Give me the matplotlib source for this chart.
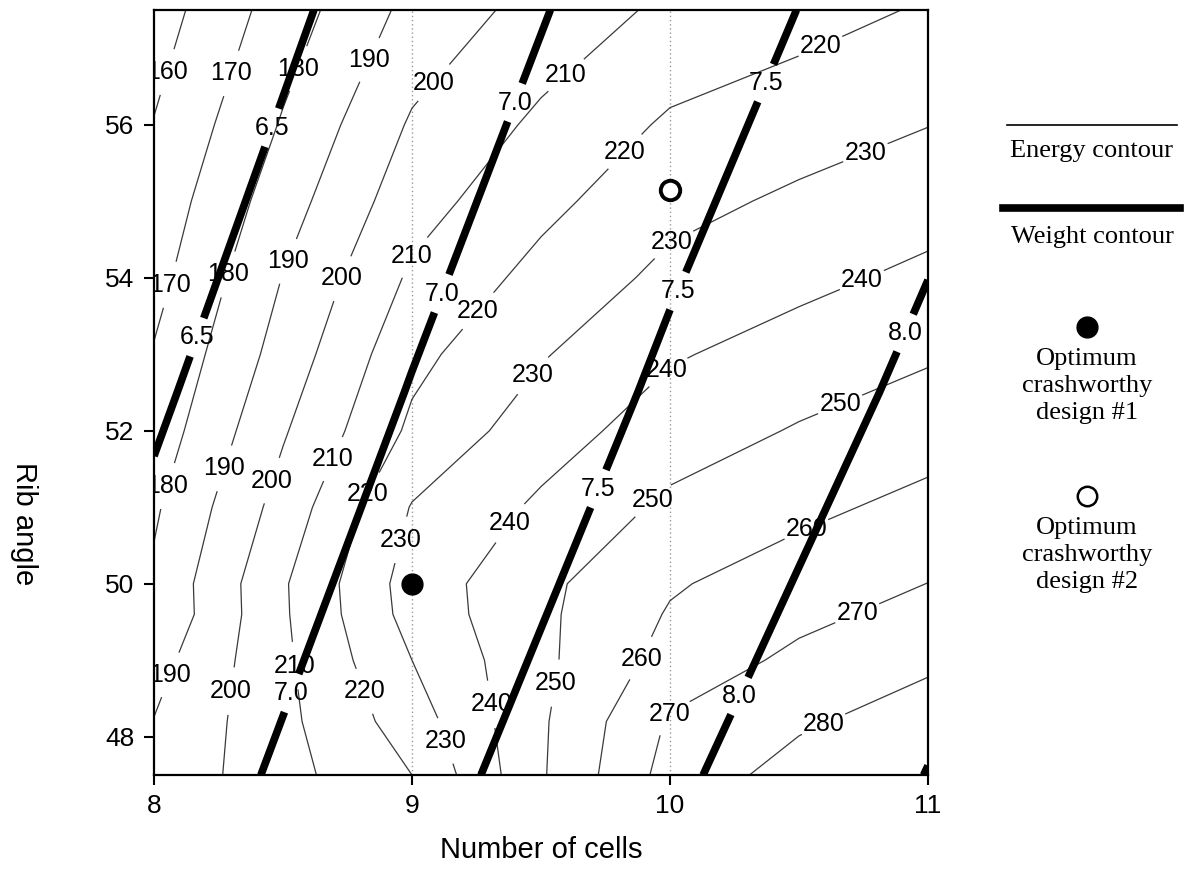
import numpy as np
import matplotlib
matplotlib.use("Agg")
import matplotlib.pyplot as plt
from matplotlib.lines import Line2D

plt.rcParams['font.family'] = ['Liberation Sans', 'DejaVu Sans']

# Energy absorbed on the design grid (rows: rib angle, columns: number of cells)
cells = [8.0, 8.5, 9.0, 9.5, 10.0, 10.5, 11.0]
rib_angle = [47.5, 48.2, 49.0, 49.6, 50.0, 51.0, 52.0, 53.0, 54.0, 55.0, 56.0, 57.5]
energy = [
    [192.6, 206.5, 220.0, 248.9, 273.9, 283.8, 290.2],
    [190.3, 207.4, 225.0, 248.6, 271.1, 278.6, 284.7],
    [186.3, 208.1, 230.0, 247.8, 263.6, 272.3, 278.2],
    [181.5, 208.7, 233.7, 248.0, 260.8, 267.5, 273.3],
    [181.7, 208.9, 234.4, 247.7, 259.0, 264.8, 270.1],
    [178.6, 203.9, 230.6, 241.7, 252.0, 257.7, 262.8],
    [174.2, 199.0, 221.9, 235.4, 245.0, 250.8, 255.7],
    [170.7, 194.1, 217.3, 229.2, 239.0, 244.1, 248.8],
    [166.7, 190.3, 211.6, 223.1, 232.5, 237.5, 242.2],
    [163.7, 185.5, 206.0, 217.3, 227.0, 231.7, 235.9],
    [160.4, 180.9, 201.2, 211.9, 221.4, 225.7, 229.8],
    [155.2, 174.7, 192.9, 203.8, 212.0, 216.2, 221.0],
]
energy_levels = [160, 170, 180, 190, 200, 210, 220, 230, 240, 250, 260, 270, 280]

# Structural weight on a coarser grid
weight_cells = [8.0, 9.0, 10.0, 11.0]
weight_angle = [47.5, 52.5, 57.5]
weight = [
    [6.756, 7.345, 7.925, 8.51],
    [6.449, 7.017, 7.569, 8.10],
    [6.156, 6.711, 7.250, 7.76],
]
weight_levels = [6.5, 7.0, 7.5, 8.0, 8.5]

# Optimum designs
opt1 = (9.0, 50.0)
opt2 = (10.0, 55.15)

# Label anchor points
energy_label_pos = [
    (8.04, 56.7), (8.30, 56.67), (8.07, 53.9),
    (8.57, 56.72), (8.29, 54.04), (8.06, 51.27),
    (8.80, 56.9), (8.53, 54.2), (8.28, 51.5), (8.07, 48.8),
    (9.05, 56.65), (8.72, 54.0), (8.41, 51.4), (8.29, 48.6),
    (9.61, 56.6), (8.97, 54.34), (8.68, 51.65), (8.57, 48.94),
    (10.58, 57.05), (9.81, 55.7), (9.22, 53.67), (8.80, 51.23), (8.82, 48.6),
    (10.74, 55.78), (9.98, 54.65), (9.48, 52.69), (8.95, 50.58), (9.17, 47.99),
    (10.74, 54.0), (9.98, 52.82), (9.36, 50.84), (9.30, 48.42),
    (10.66, 52.34), (9.92, 51.14), (9.52, 48.72),
    (10.53, 50.7), (9.84, 49.1),
    (10.72, 49.66), (9.96, 48.39),
    (10.59, 48.2),
]
weight_label_pos = [
    (8.45, 55.97), (8.16, 53.23),
    (9.43, 56.25), (9.11, 53.8), (8.55, 48.55),
    (10.43, 56.46), (10.05, 53.8), (9.76, 51.19),
    (10.91, 53.28), (10.13, 48.75),
]

W, H = 1188, 888
fig = plt.figure(figsize=(W / 100, H / 100), dpi=100)
ax = fig.add_axes([154 / W, 1 - 775 / H, (928 - 154) / W, (775 - 10) / H])

ax.axvline(9, color='#9a9a9a', lw=1.0, ls=(0, (1, 2)), zorder=1)
ax.axvline(10, color='#9a9a9a', lw=1.0, ls=(0, (1, 2)), zorder=1)

cs_e = ax.contour(cells, rib_angle, energy, levels=energy_levels,
                  colors='#3a3a3a', linewidths=0.9, zorder=2)
e_labels = ax.clabel(cs_e, inline=True, fmt='%d', fontsize=18, colors='black',
                     inline_spacing=3, manual=energy_label_pos)

cs_w = ax.contour(weight_cells, weight_angle, weight, levels=weight_levels,
                  colors='black', linewidths=5.5, zorder=3)
w_labels = ax.clabel(cs_w, levels=[6.5, 7.0, 7.5, 8.0], inline=True, fmt='%.1f',
                     fontsize=18, colors='black', inline_spacing=3,
                     manual=weight_label_pos)

# contour values are printed upright
for t in list(e_labels) + list(w_labels):
    t.set_rotation(0)
    t.set_zorder(6)

ax.plot(*opt1, 'o', ms=15, color='black', zorder=5, clip_on=False)
ax.plot(*opt2, 'o', ms=14, mfc='white', mec='black', mew=2.8, zorder=5)

ax.set_xlim(8, 11)
ax.set_ylim(47.5, 57.5)
ax.set_xticks([8, 9, 10, 11])
ax.set_yticks([48, 50, 52, 54, 56])
ax.tick_params(direction='out', length=7, width=1.5, labelsize=19, pad=7)
for s in ax.spines.values():
    s.set_linewidth(1.6)

fig.text(541 / W, 1 - 850 / H, 'Number of cells', ha='center', va='center',
         fontsize=21)
fig.text(24 / W, 1 - 524 / H, 'Rib angle', ha='center', va='center',
         fontsize=21, rotation=270)

# Key on the right
serif = ['Liberation Serif', 'DejaVu Serif']
fig.add_artist(Line2D([1007 / W, 1177 / W], [1 - 125 / H] * 2, color='black', lw=1.2))
fig.text(1092 / W, 1 - 151 / H, 'Energy contour', ha='center', va='center',
         fontsize=19, family=serif)
fig.add_artist(Line2D([1003 / W, 1180 / W], [1 - 208 / H] * 2, color='black', lw=5.5))
fig.text(1092 / W, 1 - 237 / H, 'Weight contour', ha='center', va='center',
         fontsize=19, family=serif)

fig.add_artist(Line2D([1087 / W], [1 - 327 / H], marker='o', ms=15, color='black'))
for i, line in enumerate(['Optimum', 'crashworthy', 'design #1']):
    fig.text(1087 / W, 1 - (359 + 27 * i) / H, line, ha='center', va='center',
             fontsize=19, family=serif)
fig.add_artist(Line2D([1087 / W], [1 - 496 / H], marker='o', ms=14, mfc='white',
                      mec='black', mew=1.8))
for i, line in enumerate(['Optimum', 'crashworthy', 'design #2']):
    fig.text(1087 / W, 1 - (528 + 27 * i) / H, line, ha='center', va='center',
             fontsize=19, family=serif)

fig.savefig('out.png', dpi=100, facecolor='white')
